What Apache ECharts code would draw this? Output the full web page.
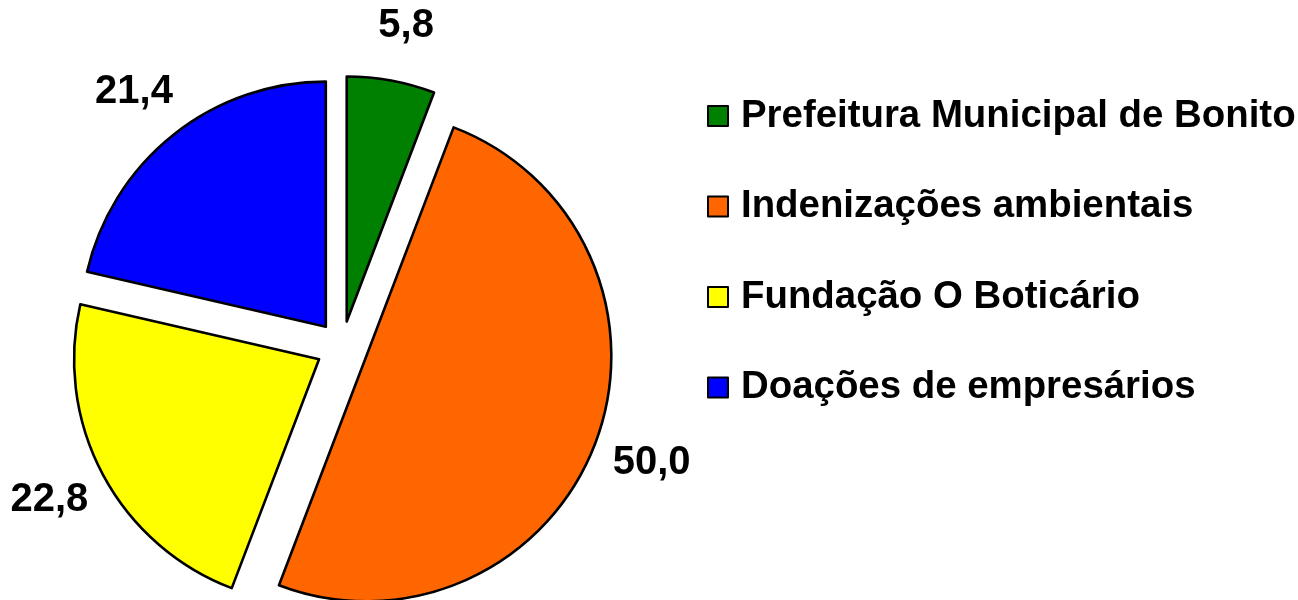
<!DOCTYPE html>
<html>
<head>
<meta charset="utf-8">
<script src="https://cdn.jsdelivr.net/npm/echarts@6/dist/echarts.min.js"></script>
<style>
html,body{margin:0;padding:0;background:#fff;}
#chart{width:1298px;height:600px;}
</style>
</head>
<body>
<div id="chart"></div>
<script>
const categories = ['Prefeitura Municipal de Bonito', 'Indenizações ambientais', 'Fundação O Boticário', 'Doações de empresários'];
const values = [5.8, 50.0, 22.8, 21.4];
const colors = ['#008000', '#FF6600', '#FFFF00', '#0000FF'];

const chart = echarts.init(document.getElementById('chart'));
const data = categories.map((name, i) => ({
  name: name,
  value: values[i],
  selected: true,
  itemStyle: { color: colors[i] },
  select: { itemStyle: { color: colors[i], borderColor: '#000', borderWidth: 2.6 } }
}));

chart.setOption({
  animation: false,
  color: colors,
  legend: {
    orient: 'vertical',
    left: 707,
    top: 96,
    padding: 0,
    itemWidth: 20,
    itemHeight: 20,
    itemGap: 50.5,
    selectedMode: false,
    icon: 'rect',
    itemStyle: { borderColor: '#000', borderWidth: 2 },
    textStyle: { fontFamily: 'Liberation Sans, Arial, sans-serif', fontWeight: 'bold', fontSize: 38.4, color: '#000', lineHeight: 40, padding: [0, 0, 0, 8] },
    data: categories
  },
  series: [{
    type: 'pie',
    center: [342, 347],
    radius: 245,
    startAngle: 90,
    clockwise: true,
    selectedMode: 'multiple',
    selectedOffset: 26,
    avoidLabelOverlap: false,
    itemStyle: { borderColor: '#000', borderWidth: 2.6 },
    emphasis: { disabled: true },
    label: {
      show: true,
      position: 'outside',
      formatter: p => p.value.toFixed(1).replace('.', ','),
      fontFamily: 'Liberation Sans, Arial, sans-serif',
      fontWeight: 'bold',
      fontSize: 40,
      color: '#000'
    },
    labelLine: { show: false, length: 55, length2: 0 },
    labelLayout: function (params) {
      const p = params.labelLinePoints;
      if (!p) return {};
      const e = p[p.length - 1];
      return { x: e[0], y: e[1], align: 'center', verticalAlign: 'middle' };
    },
    data: data
  }]
});
</script>
</body>
</html>
